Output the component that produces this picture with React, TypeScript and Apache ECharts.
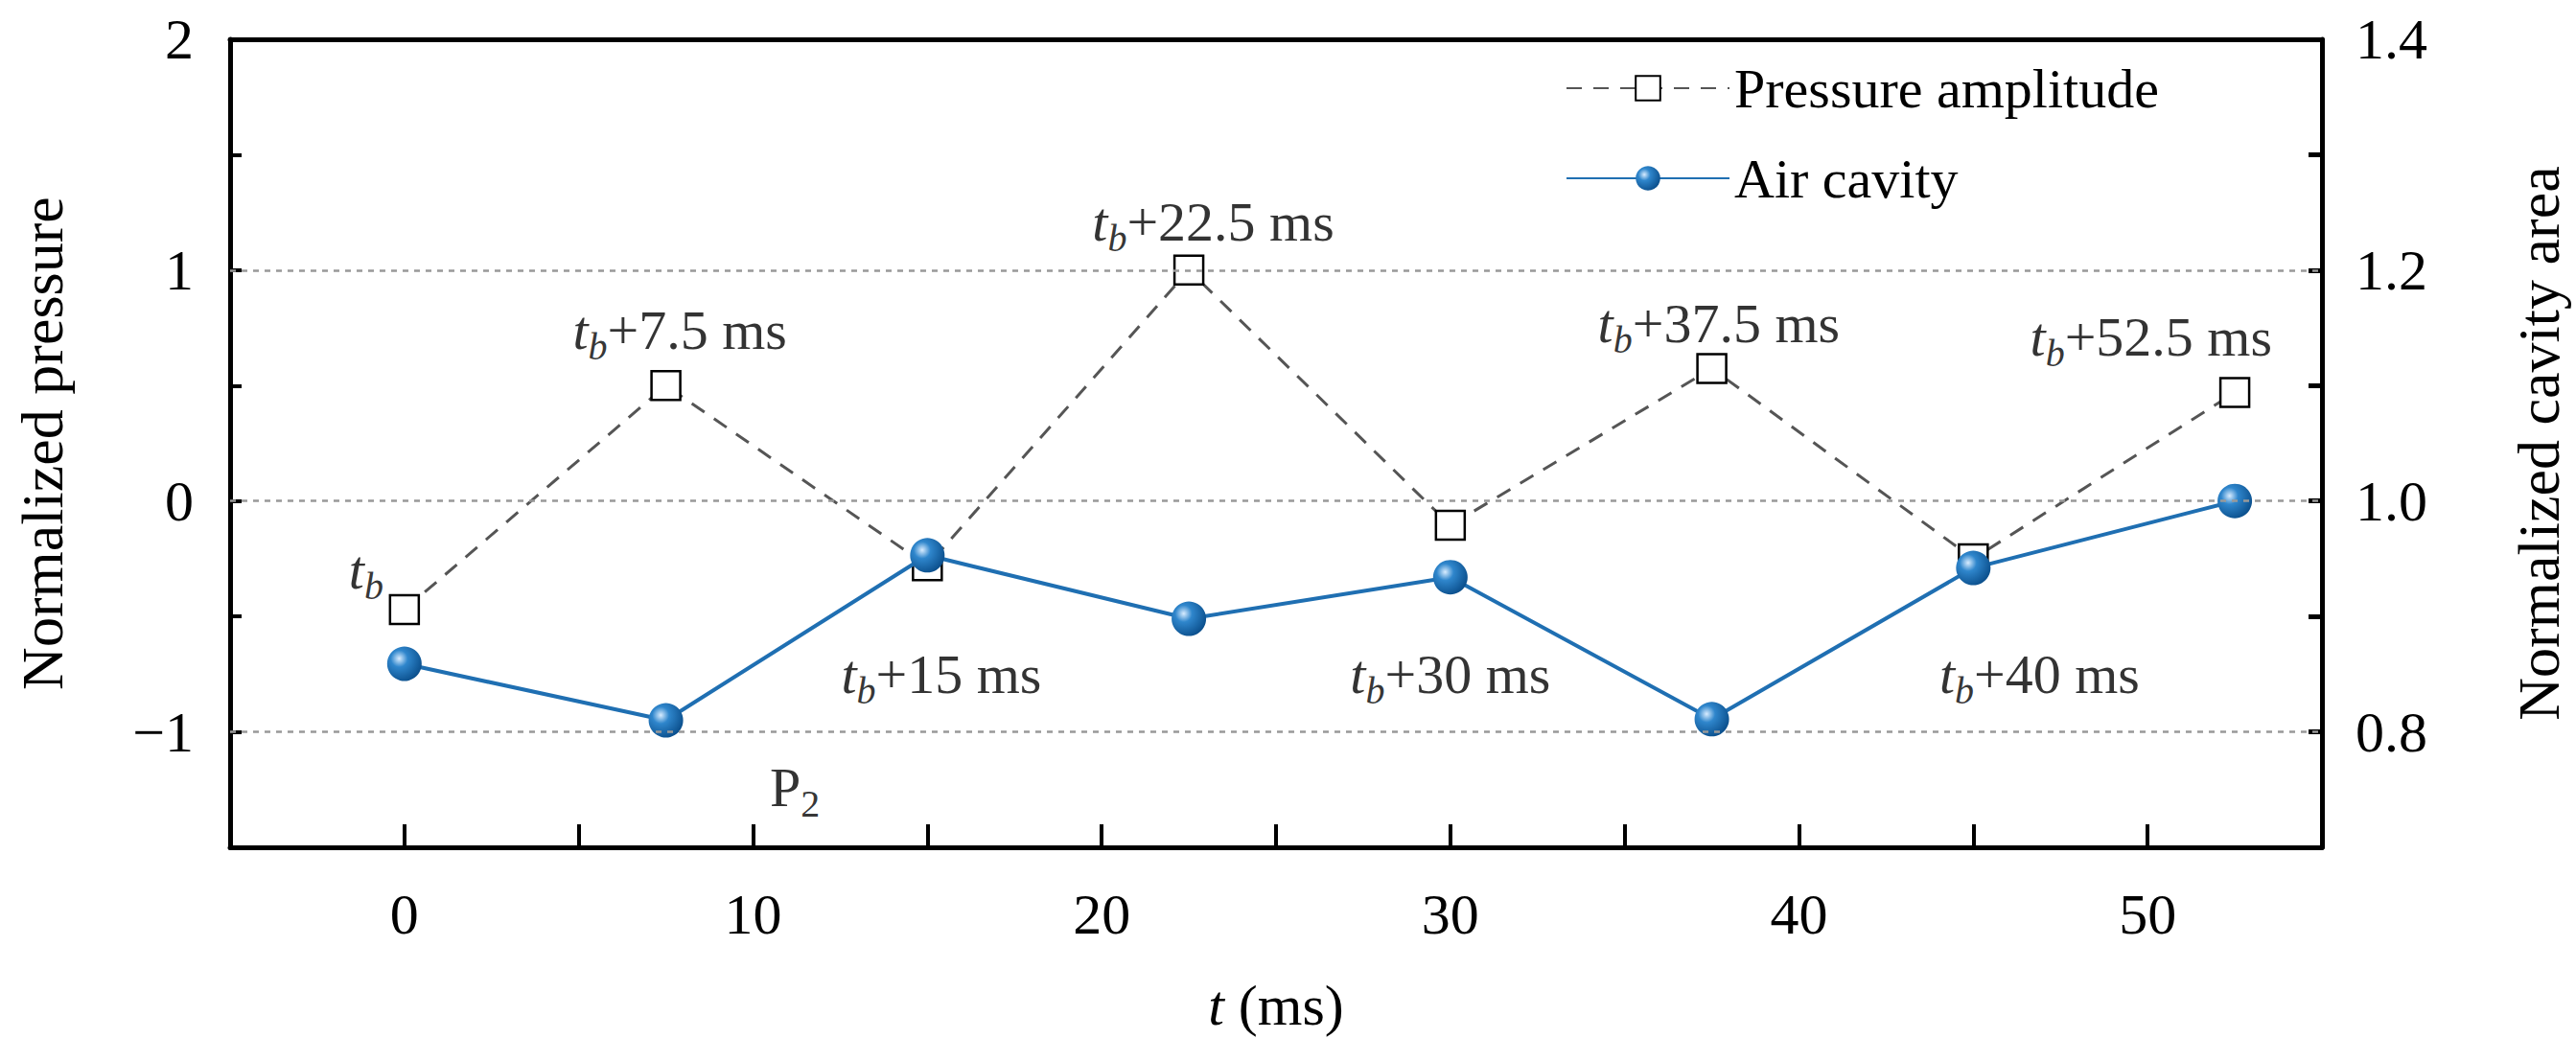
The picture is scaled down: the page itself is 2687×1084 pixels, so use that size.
import React, { useEffect, useRef } from "react";
import * as echarts from "echarts";

const times = [0, 7.5, 15, 22.5, 30, 37.5, 45, 52.5];
const pressure = [-0.47, 0.5, -0.28, 1.0, -0.105, 0.574, -0.25, 0.47];
const cavity = [0.859, 0.81, 0.953, 0.898, 0.934, 0.811, 0.942, 1.0];

// annotation labels: [x, y (pressure axis), suffix]
const notes: [number, number, string][] = [
  [-1.1, -0.3, ""],
  [7.9, 0.74, "+7.5 ms"],
  [23.2, 1.21, "+22.5 ms"],
  [37.7, 0.77, "+37.5 ms"],
  [50.1, 0.71, "+52.5 ms"],
  [15.4, -0.75, "+15 ms"],
  [30.0, -0.75, "+30 ms"],
  [46.9, -0.75, "+40 ms"],
];

const FONT = "Liberation Serif";
const BLUE = "#1f6fb2";

const App: React.FC = () => {
  const ref = useRef<HTMLDivElement>(null);

  useEffect(() => {
    document.body.style.margin = "0";
    if (!ref.current) return;
    const chart = echarts.init(ref.current, undefined, { renderer: "svg" });

    const rich = {
      t: { fontFamily: FONT, fontSize: 58, fontStyle: "italic", color: "#000" },
      b: {
        fontFamily: FONT,
        fontSize: 40,
        fontStyle: "italic",
        color: "#000",
        padding: [34, 0, 0, 0],
      },
      s: { fontFamily: FONT, fontSize: 40, color: "#000", padding: [34, 0, 0, 0] },
      n: { fontFamily: FONT, fontSize: 58, color: "#000" },
    };

    const option: echarts.EChartsOption = {
      animation: false,
      grid: { left: 240, right: 254, top: 41, bottom: 196 },
      legend: {
        orient: "vertical",
        left: 1628,
        top: 58,
        itemGap: 36,
        itemWidth: 170,
        itemHeight: 32,
        data: ["Pressure amplitude", "Air cavity"],
        textStyle: { fontFamily: FONT, fontSize: 58, color: "#000" },
      },
      xAxis: [
        {
          type: "value",
          min: -5,
          max: 55,
          interval: 5,
          name: "{i|t} (ms)",
          nameLocation: "middle",
          nameGap: 135,
          nameTextStyle: {
            fontFamily: FONT,
            fontSize: 60,
            color: "#000",
            rich: { i: { fontFamily: FONT, fontSize: 60, fontStyle: "italic", color: "#000" } },
          },
          axisLine: { onZero: false, lineStyle: { color: "#000", width: 5 } },
          axisTick: {
            inside: true,
            length: 24,
            lineStyle: { color: "#000", width: 4 },
            customValues: [0, 5, 10, 15, 20, 25, 30, 35, 40, 45, 50],
          },
          axisLabel: {
            customValues: [0, 10, 20, 30, 40, 50],
            margin: 40,
            fontFamily: FONT,
            fontSize: 60,
            color: "#000",
          },
          splitLine: { show: false },
        },
        {
          type: "value",
          position: "top",
          min: -5,
          max: 55,
          axisLine: { show: true, onZero: false, lineStyle: { color: "#000", width: 5 } },
          axisTick: { show: false },
          axisLabel: { show: false },
          splitLine: { show: false },
        },
      ],
      yAxis: [
        {
          type: "value",
          min: -1.5,
          max: 2,
          interval: 0.5,
          name: "Normalized pressure",
          nameLocation: "middle",
          nameGap: 165,
          nameTextStyle: { fontFamily: FONT, fontSize: 62, color: "#000" },
          axisLine: { show: true, onZero: false, lineStyle: { color: "#000", width: 5 } },
          axisTick: { inside: true, length: 12, lineStyle: { color: "#000", width: 4 } },
          axisLabel: {
            margin: 38,
            fontFamily: FONT,
            fontSize: 60,
            color: "#000",
            formatter: (v: number) =>
              Number.isInteger(v) ? (v < 0 ? "\u2212" + Math.abs(v) : String(v)) : "",
          },
          splitLine: { show: false },
        },
        {
          type: "value",
          min: 0.7,
          max: 1.4,
          interval: 0.1,
          position: "right",
          name: "Normalized cavity area",
          nameLocation: "middle",
          nameGap: 195,
          nameRotate: 90,
          nameTextStyle: { fontFamily: FONT, fontSize: 62, color: "#000" },
          axisLine: { show: true, onZero: false, lineStyle: { color: "#000", width: 5 } },
          axisTick: { inside: true, length: 14, lineStyle: { color: "#000", width: 5 } },
          axisLabel: {
            margin: 35,
            fontFamily: FONT,
            fontSize: 60,
            color: "#000",
            formatter: (v: number) => {
              const k = Math.round(v * 10);
              return k % 2 === 0 && k >= 8 ? v.toFixed(1) : "";
            },
          },
          splitLine: { show: false },
        },
      ],
      series: [
        {
          name: "Pressure amplitude",
          type: "line",
          yAxisIndex: 0,
          data: times.map((t, i) => [t, pressure[i]]),
          symbol: "rect",
          symbolSize: 30,
          lineStyle: { color: "#555", width: 3, type: [16, 12] },
          itemStyle: { color: "#fff", borderColor: "#000", borderWidth: 2.5 },
          markLine: {
            silent: true,
            symbol: "none",
            label: { show: false },
            lineStyle: { color: "#999", width: 2.5, type: [6, 6] },
            data: [{ yAxis: -1 }, { yAxis: 0 }, { yAxis: 1 }],
          },
          z: 2,
        },
        {
          name: "Air cavity",
          type: "line",
          yAxisIndex: 1,
          data: times.map((t, i) => [t, cavity[i]]),
          symbol: "circle",
          symbolSize: 36,
          lineStyle: { color: BLUE, width: 4 },
          itemStyle: {
            color: new echarts.graphic.RadialGradient(0.35, 0.35, 0.7, [
              { offset: 0, color: "#d8ecff" },
              { offset: 0.35, color: "#2f86cc" },
              { offset: 1, color: "#0b4f8c" },
            ]),
          },
          z: 3,
        },
        {
          type: "scatter",
          yAxisIndex: 0,
          symbolSize: 0,
          silent: true,
          data: notes.map((n) => ({ value: [n[0], n[1]], suffix: n[2] } as any)),
          label: {
            show: true,
            position: "inside",
            color: "#000",
            formatter: (p: any) => `{t|t}{b|b}{n|${p.data.suffix}}`,
            rich,
          },
        },
        {
          type: "scatter",
          yAxisIndex: 0,
          symbolSize: 0,
          silent: true,
          data: [[11.2, -1.24]],
          label: {
            show: true,
            position: "inside",
            color: "#000",
            formatter: "{n|P}{s|2}",
            rich,
          },
        },
      ],
    };

    chart.setOption(option);
    return () => chart.dispose();
  }, []);

  return <div ref={ref} style={{ width: 2687, height: 1084 }} />;
};

export default App;
